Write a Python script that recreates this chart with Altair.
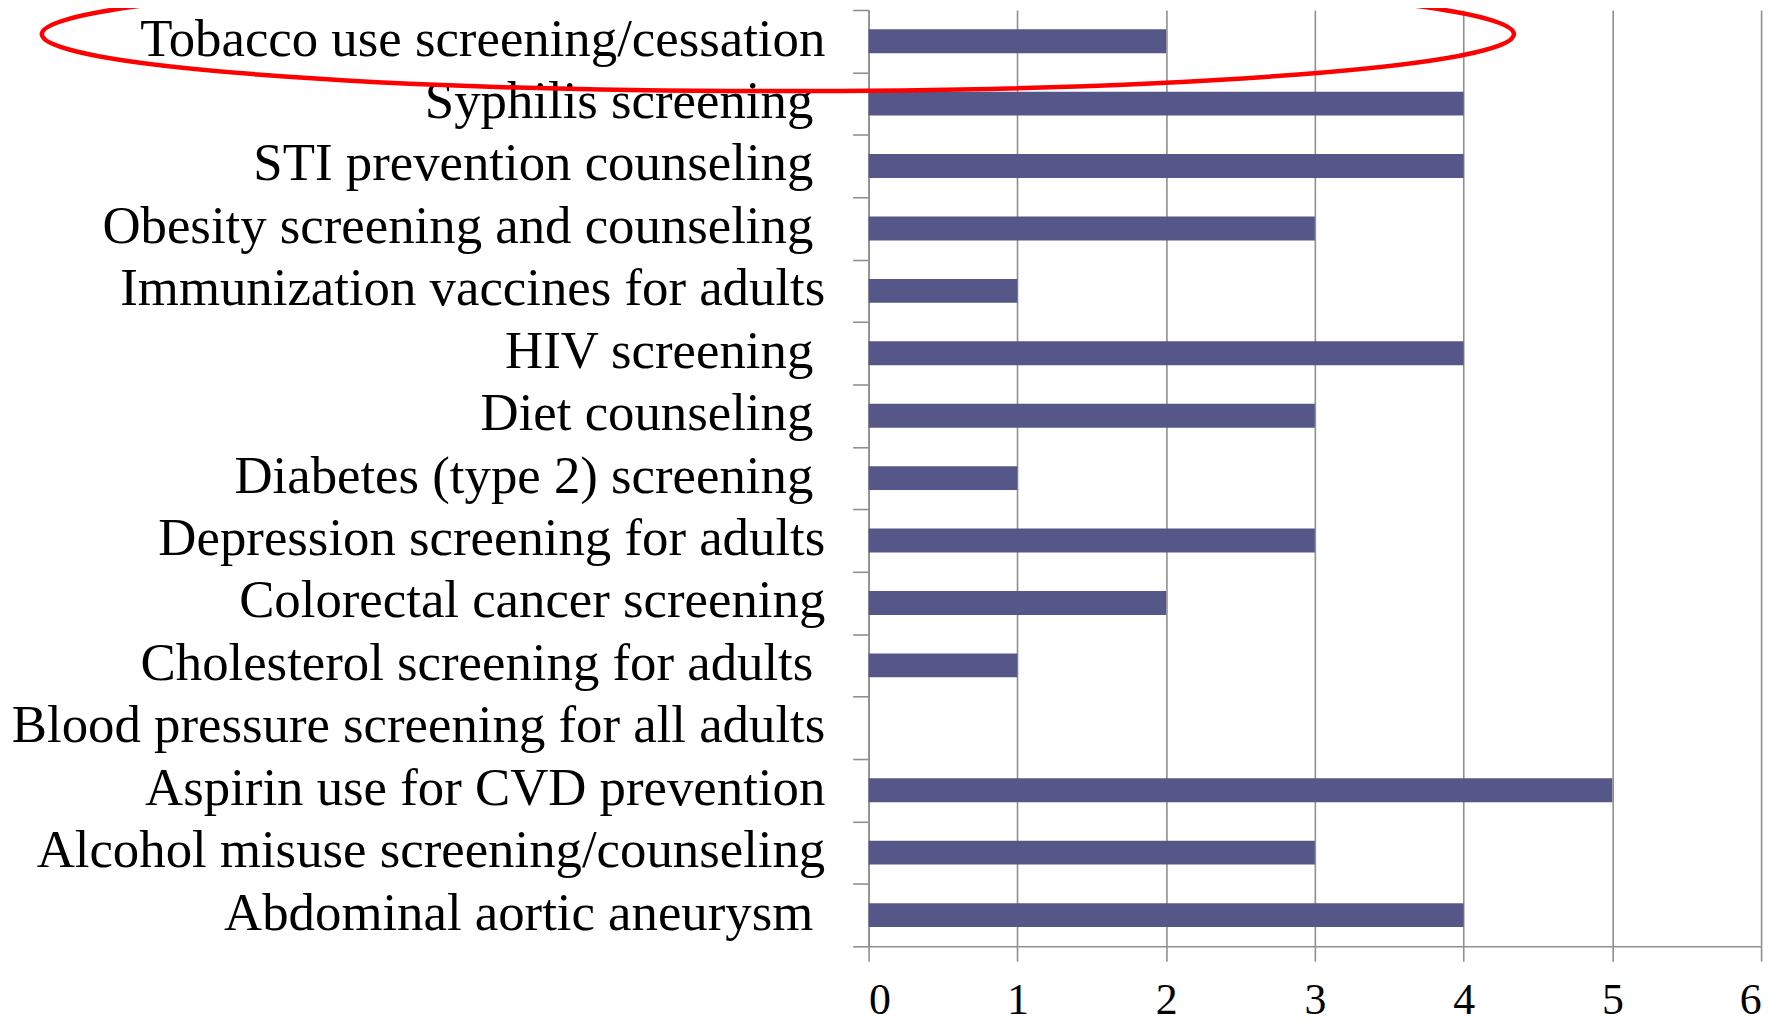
import json
import altair as alt
import pandas as pd

# ---- data ----
categories = [
    "Tobacco use screening/cessation",
    "Syphilis screening",
    "STI prevention counseling",
    "Obesity screening and counseling",
    "Immunization vaccines for adults",
    "HIV screening",
    "Diet counseling",
    "Diabetes (type 2) screening",
    "Depression screening for adults",
    "Colorectal cancer screening",
    "Cholesterol screening for adults",
    "Blood pressure screening for all adults",
    "Aspirin use for CVD prevention",
    "Alcohol misuse screening/counseling",
    "Abdominal aortic aneurysm",
]
values = [2, 4, 4, 3, 1, 4, 3, 1, 3, 2, 1, 0, 5, 3, 4]
# labels in the original carry a trailing space (they end a bit further left)
trailing_space = [False, True, True, True, False, True, True, True,
                  False, False, True, False, False, False, True]
x_ticks = [0, 1, 2, 3, 4, 5, 6]

df = pd.DataFrame({"label": categories, "value": values})
spaced = [c for c, t in zip(categories, trailing_space) if t]
spaced_test = f"indexof({json.dumps(spaced)}, datum.value) >= 0"

# annotation: red ellipse drawn around the first category label
annot_df = pd.DataFrame({"label": [categories[0]], "value": [-0.61]})
k = 0.5523
ry = 0.0773
oy = -0.0095
ellipse_path = (
    f"M-1,{oy} C-1,{oy - ry * k} {-k},{oy - ry} 0,{oy - ry} "
    f"C{k},{oy - ry} 1,{oy - ry * k} 1,{oy} "
    f"C1,{oy + ry * k} {k},{oy + ry} 0,{oy + ry} "
    f"C{-k},{oy + ry} -1,{oy + ry * k} -1,{oy} Z"
)

GRAY = "#8f8f8f"
FONT = "Liberation Serif"

x_scale = alt.Scale(domain=[0, 6], nice=False, zero=False)
y_scale = alt.Scale(paddingInner=0, paddingOuter=0)

bars = alt.Chart(df).mark_bar(size=24, color="#545788").encode(
    x=alt.X(
        "value:Q",
        scale=x_scale,
        title=None,
        axis=alt.Axis(
            values=x_ticks, format="d", grid=True, gridColor=GRAY, gridWidth=1.6,
            domainColor=GRAY, domainWidth=1.6, tickColor=GRAY, tickWidth=1.6,
            tickSize=15, labelFont=FONT, labelFontSize=44, labelColor="black",
            labelPadding=17,
        ),
    ),
    y=alt.Y(
        "label:N",
        sort=categories,
        scale=y_scale,
        title=None,
        axis=alt.Axis(
            tickBand="extent", tickSize=16, tickColor=GRAY, tickWidth=1.6,
            domainColor=GRAY, domainWidth=1.6, grid=False,
            labelFont=FONT, labelFontSize=53, labelColor="black",
            labelPadding={"condition": {"test": spaced_test, "value": 40}, "value": 28},
            labelLimit=0, labelOffset=-2,
        ),
    ),
)

ellipse = alt.Chart(annot_df).mark_point(
    shape=ellipse_path, size=1478 ** 2, filled=False, stroke="#ff0000",
    strokeWidth=4.5, opacity=1,
).encode(
    x=alt.X("value:Q", scale=x_scale),
    y=alt.Y("label:N", sort=categories, scale=y_scale),
)

chart = alt.layer(bars, ellipse).properties(
    width=896,
    height=940,
    autosize=alt.AutoSizeParams(type="none"),
    padding={"left": 864, "top": 0, "right": 22, "bottom": 75},
    background="white",
).configure_view(stroke=None)

chart.save("out.html", embed_options={"renderer": "svg", "actions": False})
